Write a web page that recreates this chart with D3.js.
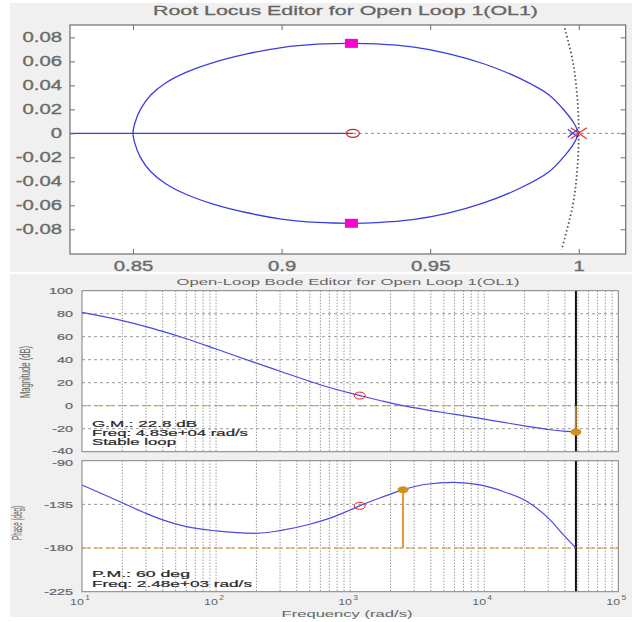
<!DOCTYPE html>
<html>
<head>
<meta charset="utf-8">
<script src="https://cdn.jsdelivr.net/npm/d3@7"></script>
<style>
  body { margin: 0; background: #fff; }
  svg { display: block; font-family: "Liberation Sans", Arial, sans-serif; }
</style>
</head>
<body>
<div id="chart"></div>
<script>
// ---- root locus data (z-plane), upper branch ----
const locusUpper = [
  [1.0, 0], [0.9985, 0.008], [0.9955, 0.018], [0.990, 0.032], [0.980, 0.046],
  [0.968, 0.058], [0.956, 0.0665], [0.944, 0.072], [0.932, 0.0745], [0.9235, 0.075],
  [0.912, 0.0743], [0.900, 0.0715], [0.888, 0.066], [0.877, 0.059], [0.868, 0.051],
  [0.861, 0.042], [0.856, 0.032], [0.8525, 0.020], [0.8507, 0.009], [0.85, 0]
];
const unitCircle = [
  [0.9953, 0.0875], [0.998, 0.06], [0.9995, 0.03], [1.0, 0],
  [0.9995, -0.03], [0.998, -0.06], [0.9942, -0.097]
];
const olZero = 0.924;
const olPole = 1.0;
const clPoleReal = 0.998;
const clPoles = [[0.9235, 0.075], [0.9235, -0.075]];
const rlXTicks = [0.85, 0.9, 0.95, 1];
const rlYTicks = [0.08, 0.06, 0.04, 0.02, 0, -0.02, -0.04, -0.06, -0.08];

// ---- open-loop bode data ----
const freq = [10, 20, 30, 40, 60, 100, 200, 300, 500, 700, 1000, 1200, 1700, 2480,
  3700, 5900, 9300, 14000, 21000, 31000, 39000, 48300];
const magDb = [81.2, 74.0, 68.8, 64.6, 58.2, 49.3, 37.0, 30.0, 21.2, 15.8, 10.9, 8.6, 4.3, 0,
  -3.6, -7.3, -11.0, -14.5, -17.9, -20.9, -22.1, -22.8];
const phaseDeg = [-115, -133.3, -144.3, -151, -158, -162.4, -164.8, -162.1, -155.5, -149.5,
  -140.8, -136, -127.9, -120, -114.3, -112.3, -115, -122, -132.3, -151, -166.5, -180];
const magTicks = [100, 80, 60, 40, 20, 0, -20, -40];
const phaseTicks = [-90, -135, -180, -225];
const decades = [1, 2, 3, 4, 5];
const compZero = { freq: 1180, db: 8.8, deg: -136.5 };
const gainMargin = { freq: 4.83e4, db: -22.8 };
const phaseMargin = { freq: 2.48e3, deg: -120 };
const nyquistFreq = 4.83e4;

const W = 635, H = 622;
const blue = "#3c3ce0", orange = "#dc9a30", gridCol = "#6e6e6e", boxCol = "#6e6e6e";

const svg = d3.select("#chart").append("svg").attr("width", W).attr("height", H);

// stretch text horizontally like the (wide) reference rendering
function stretch(sel, k) {
  sel.each(function () {
    const n = this.getComputedTextLength();
    this.setAttribute("textLength", n * k);
    this.setAttribute("lengthAdjust", "spacingAndGlyphs");
  });
}
function fit(sel, w) {
  sel.attr("textLength", w).attr("lengthAdjust", "spacingAndGlyphs");
}

// panels
svg.append("rect").attr("x", 10).attr("y", 3).attr("width", 622).attr("height", 269).attr("fill", "#f0f0f0");
svg.append("rect").attr("x", 10).attr("y", 274).attr("width", 622).attr("height", 343).attr("fill", "#f0f0f0");

// ================= Root locus =================
const rx = d3.scaleLinear().domain([0.8288, 1.0158]).range([70, 625.7]);
const ry = d3.scaleLinear().domain([-0.1006, 0.0903]).range([254, 25]);

svg.append("rect").attr("x", 70).attr("y", 25).attr("width", 555.7).attr("height", 229).attr("fill", "#fff");

svg.append("text").attr("x", 345.5).attr("y", 15).attr("text-anchor", "middle")
  .attr("font-size", 13).attr("fill", "#666").attr("stroke", "#666").attr("stroke-width", 0.3)
  .text("Root Locus Editor for Open Loop 1(OL1)")
  .call(fit, 385);

svg.append("clipPath").attr("id", "rlclip").append("rect")
  .attr("x", 70).attr("y", 25).attr("width", 555.7).attr("height", 229);
const rl = svg.append("g").attr("clip-path", "url(#rlclip)");

// real axis: blue segment to zero, dashed beyond
rl.append("line").attr("x1", rx.range()[0]).attr("x2", rx(olZero)).attr("y1", ry(0)).attr("y2", ry(0))
  .attr("stroke", blue).attr("stroke-width", 1.3);
rl.append("line").attr("x1", rx(olZero)).attr("x2", rx.range()[1]).attr("y1", ry(0)).attr("y2", ry(0))
  .attr("stroke", "#888").attr("stroke-dasharray", "3,3");

// unit circle (dotted)
rl.append("path").datum(unitCircle)
  .attr("d", d3.line().x(d => rx(d[0])).y(d => ry(d[1])).curve(d3.curveCatmullRom.alpha(0.5)))
  .attr("fill", "none").attr("stroke", "#555").attr("stroke-width", 1.8).attr("stroke-dasharray", "1.5,2.5");

// complex branches (lower = conjugate of upper)
const locusLower = locusUpper.slice().reverse().map(d => [d[0], -d[1]]);
const locusAll = locusUpper.concat(locusLower.slice(1));
rl.append("path").datum(locusAll)
  .attr("d", d3.line().x(d => rx(d[0])).y(d => ry(d[1])).curve(d3.curveCatmullRom.alpha(0.5)))
  .attr("fill", "none").attr("stroke", blue).attr("stroke-width", 1.3);

// zero, poles, closed loop poles
rl.append("ellipse").attr("cx", rx(olZero)).attr("cy", ry(0)).attr("rx", 6.5).attr("ry", 4)
  .attr("fill", "none").attr("stroke", "#e02020").attr("stroke-width", 1.2);
function cross(g, cx, cy, w, h, col, sw) {
  g.append("path").attr("d", `M${cx - w / 2},${cy - h / 2}L${cx + w / 2},${cy + h / 2}M${cx - w / 2},${cy + h / 2}L${cx + w / 2},${cy - h / 2}`)
    .attr("stroke", col).attr("stroke-width", sw).attr("fill", "none");
}
cross(rl, rx(clPoleReal), ry(0), 10, 8, blue, 1.2);
cross(rl, rx(olPole), ry(0), 16, 11, "#e83030", 1.2);
rl.selectAll(".clp").data(clPoles).join("rect").attr("class", "clp")
  .attr("x", d => rx(d[0]) - 6.5).attr("y", d => ry(d[1]) - 4.5).attr("width", 13).attr("height", 9)
  .attr("fill", "#ff00cc");

// axes box + ticks
svg.append("rect").attr("x", 70).attr("y", 25).attr("width", 555.7).attr("height", 229)
  .attr("fill", "none").attr("stroke", boxCol).attr("stroke-width", 1.2);

function styleAxis(g, fs, col, sw) {
  g.select(".domain").remove();
  g.selectAll("line").attr("stroke", boxCol);
  g.attr("font-family", null).attr("font-size", fs);
  g.selectAll("text").attr("fill", col);
  if (sw) g.selectAll("text").attr("stroke", col).attr("stroke-width", sw);
}
svg.append("g").attr("transform", "translate(0,254)")
  .call(d3.axisBottom(rx).tickValues(rlXTicks).tickSize(-5).tickPadding(7).tickFormat(d => String(d)))
  .call(g => styleAxis(g, 14, "#6b6b6b", 0.35))
  .call(g => g.selectAll("text").call(stretch, 1.45));
svg.append("g").attr("transform", "translate(0,25)")
  .call(d3.axisTop(rx).tickValues(rlXTicks).tickSize(-5).tickFormat(""))
  .call(g => styleAxis(g, 14, "#6b6b6b"));
svg.append("g").attr("transform", "translate(70,0)")
  .call(d3.axisLeft(ry).tickValues(rlYTicks).tickSize(-5).tickPadding(8).tickFormat(d => String(d)))
  .call(g => styleAxis(g, 14, "#6b6b6b", 0.35))
  .call(g => g.selectAll("text").call(stretch, 1.45));
svg.append("g").attr("transform", "translate(625.7,0)")
  .call(d3.axisRight(ry).tickValues(rlYTicks).tickSize(-5).tickFormat(""))
  .call(g => styleAxis(g, 14, "#6b6b6b"));

// ================= Bode =================
const bx = d3.scaleLog().domain([10, 1e5]).range([82, 618.3]);
const yMag = d3.scaleLinear().domain([-40, 100]).range([451.7, 290.7]);
const yPh = d3.scaleLinear().domain([-225, -90]).range([591.7, 460.7]);

svg.append("text").attr("x", 348).attr("y", 285).attr("text-anchor", "middle")
  .attr("font-size", 9.5).attr("fill", "#666").text("Open-Loop Bode Editor for Open Loop 1(OL1)")
  .call(fit, 343);

const gridFreqs = [];
decades.slice(0, 4).forEach(e => { for (let m = 1; m <= 9; m++) gridFreqs.push(m * Math.pow(10, e)); });

function bodePanel(y, ticks, values, marker, refVal, edgeShift) {
  const [y0, y1] = y.range();
  const top = y1, h = y0 - y1;
  svg.append("rect").attr("x", 82).attr("y", top).attr("width", 536.3).attr("height", h).attr("fill", "#fff");
  const g = svg.append("g");
  g.selectAll(".vg").data(gridFreqs.slice(1)).join("line")
    .attr("x1", d => bx(d)).attr("x2", d => bx(d)).attr("y1", top).attr("y2", y0)
    .attr("stroke", gridCol).attr("stroke-dasharray", "1,2");
  g.selectAll(".hg").data(ticks.slice(1, -1)).join("line")
    .attr("x1", 82).attr("x2", 618.3).attr("y1", d => y(d)).attr("y2", d => y(d))
    .attr("stroke", "#999").attr("stroke-dasharray", "3,3");
  g.append("line").attr("x1", 82).attr("x2", 618.3).attr("y1", y(refVal)).attr("y2", y(refVal))
    .attr("stroke", orange).attr("stroke-dasharray", "8,4");
  g.append("line").attr("x1", bx(nyquistFreq)).attr("x2", bx(nyquistFreq)).attr("y1", top).attr("y2", y0)
    .attr("stroke", "#111").attr("stroke-width", 2);
  g.append("path").datum(freq.map((f, i) => [f, values[i]]))
    .attr("d", d3.line().x(d => bx(d[0])).y(d => y(d[1])).curve(d3.curveMonotoneX))
    .attr("fill", "none").attr("stroke", "#4a4ae0").attr("stroke-width", 1.2);
  g.append("ellipse").attr("cx", bx(compZero.freq)).attr("cy", y(marker)).attr("rx", 5.5).attr("ry", 3.5)
    .attr("fill", "none").attr("stroke", "#e02020").attr("stroke-width", 1);
  svg.append("rect").attr("x", 82).attr("y", top).attr("width", 536.3).attr("height", h)
    .attr("fill", "none").attr("stroke", "#808080");
  svg.append("g").attr("transform", "translate(82,0)")
    .call(d3.axisLeft(y).tickValues(ticks).tickSize(0).tickPadding(9).tickFormat(d => String(d)))
    .call(gg => styleAxis(gg, 9, "#666", 0.2))
    .call(gg => gg.selectAll("text").call(stretch, 1.6))
    // the two labels where the panels meet sit a little apart, as in MATLAB
    .call(gg => gg.selectAll(".tick text").filter(d => d === edgeShift.v).attr("y", edgeShift.dy));
  return g;
}

const gMag = bodePanel(yMag, magTicks, magDb, compZero.db, 0, { v: -40, dy: -1 });
const gPh = bodePanel(yPh, phaseTicks, phaseDeg, compZero.deg, -180, { v: -90, dy: 2 });

// gain margin stem
gMag.append("line").attr("x1", bx(gainMargin.freq)).attr("x2", bx(gainMargin.freq))
  .attr("y1", yMag(0)).attr("y2", yMag(gainMargin.db)).attr("stroke", orange).attr("stroke-width", 1.5);
gMag.append("ellipse").attr("cx", bx(gainMargin.freq)).attr("cy", yMag(gainMargin.db))
  .attr("rx", 5.5).attr("ry", 3.5).attr("fill", "#d4901c");
// phase margin stem
gPh.append("line").attr("x1", bx(phaseMargin.freq)).attr("x2", bx(phaseMargin.freq))
  .attr("y1", yPh(-180)).attr("y2", yPh(phaseMargin.deg)).attr("stroke", orange).attr("stroke-width", 2);
gPh.append("ellipse").attr("cx", bx(phaseMargin.freq)).attr("cy", yPh(phaseMargin.deg))
  .attr("rx", 5.5).attr("ry", 3.5).attr("fill", "#d4901c");

// margin texts
const notes = [
  { t: `G.M.: ${-gainMargin.db} dB`, y: 426.7, w: 105 },
  { t: "Freq: 4.83e+04 rad/s", y: 435.9, w: 156 },
  { t: "Stable loop", y: 445, w: 84 },
  { t: "P.M.: 60 deg", y: 577.3, w: 98 },
  { t: "Freq: 2.48e+03 rad/s", y: 586.7, w: 160 }
];
svg.selectAll(".note").data(notes).join("text").attr("class", "note")
  .attr("x", 92).attr("y", d => d.y).attr("font-size", 9).attr("fill", "#2a2a2a")
  .attr("stroke", "#2a2a2a").attr("stroke-width", 0.2)
  .text(d => d.t).each(function (d) { d3.select(this).call(fit, d.w); });

// log x tick labels: 10 with a raised exponent
decades.forEach(e => {
  const x = bx(Math.pow(10, e));
  const t = svg.append("text").attr("x", x - 12).attr("y", 605.3)
    .attr("font-size", 9.5).attr("fill", "#666");
  t.append("tspan").text("10");
  t.append("tspan").attr("dy", -5).attr("dx", 1).attr("font-size", 6.5).text(String(e));
  t.call(stretch, 1.4);
});

svg.append("text").attr("x", 347).attr("y", 616.5).attr("text-anchor", "middle")
  .attr("font-size", 9.5).attr("fill", "#666").text("Frequency (rad/s)").call(fit, 131);

svg.append("text").attr("transform", "translate(25,372) scale(1.4,1) rotate(-90)")
  .attr("text-anchor", "middle").attr("dy", "0.35em").attr("font-size", 10).attr("fill", "#666")
  .text("Magnitude (dB)").call(fit, 52);
svg.append("text").attr("transform", "translate(17,523) scale(1.4,1) rotate(-90)")
  .attr("text-anchor", "middle").attr("dy", "0.35em").attr("font-size", 10).attr("fill", "#666")
  .text("Phase (deg)").call(fit, 34);
</script>
</body>
</html>
